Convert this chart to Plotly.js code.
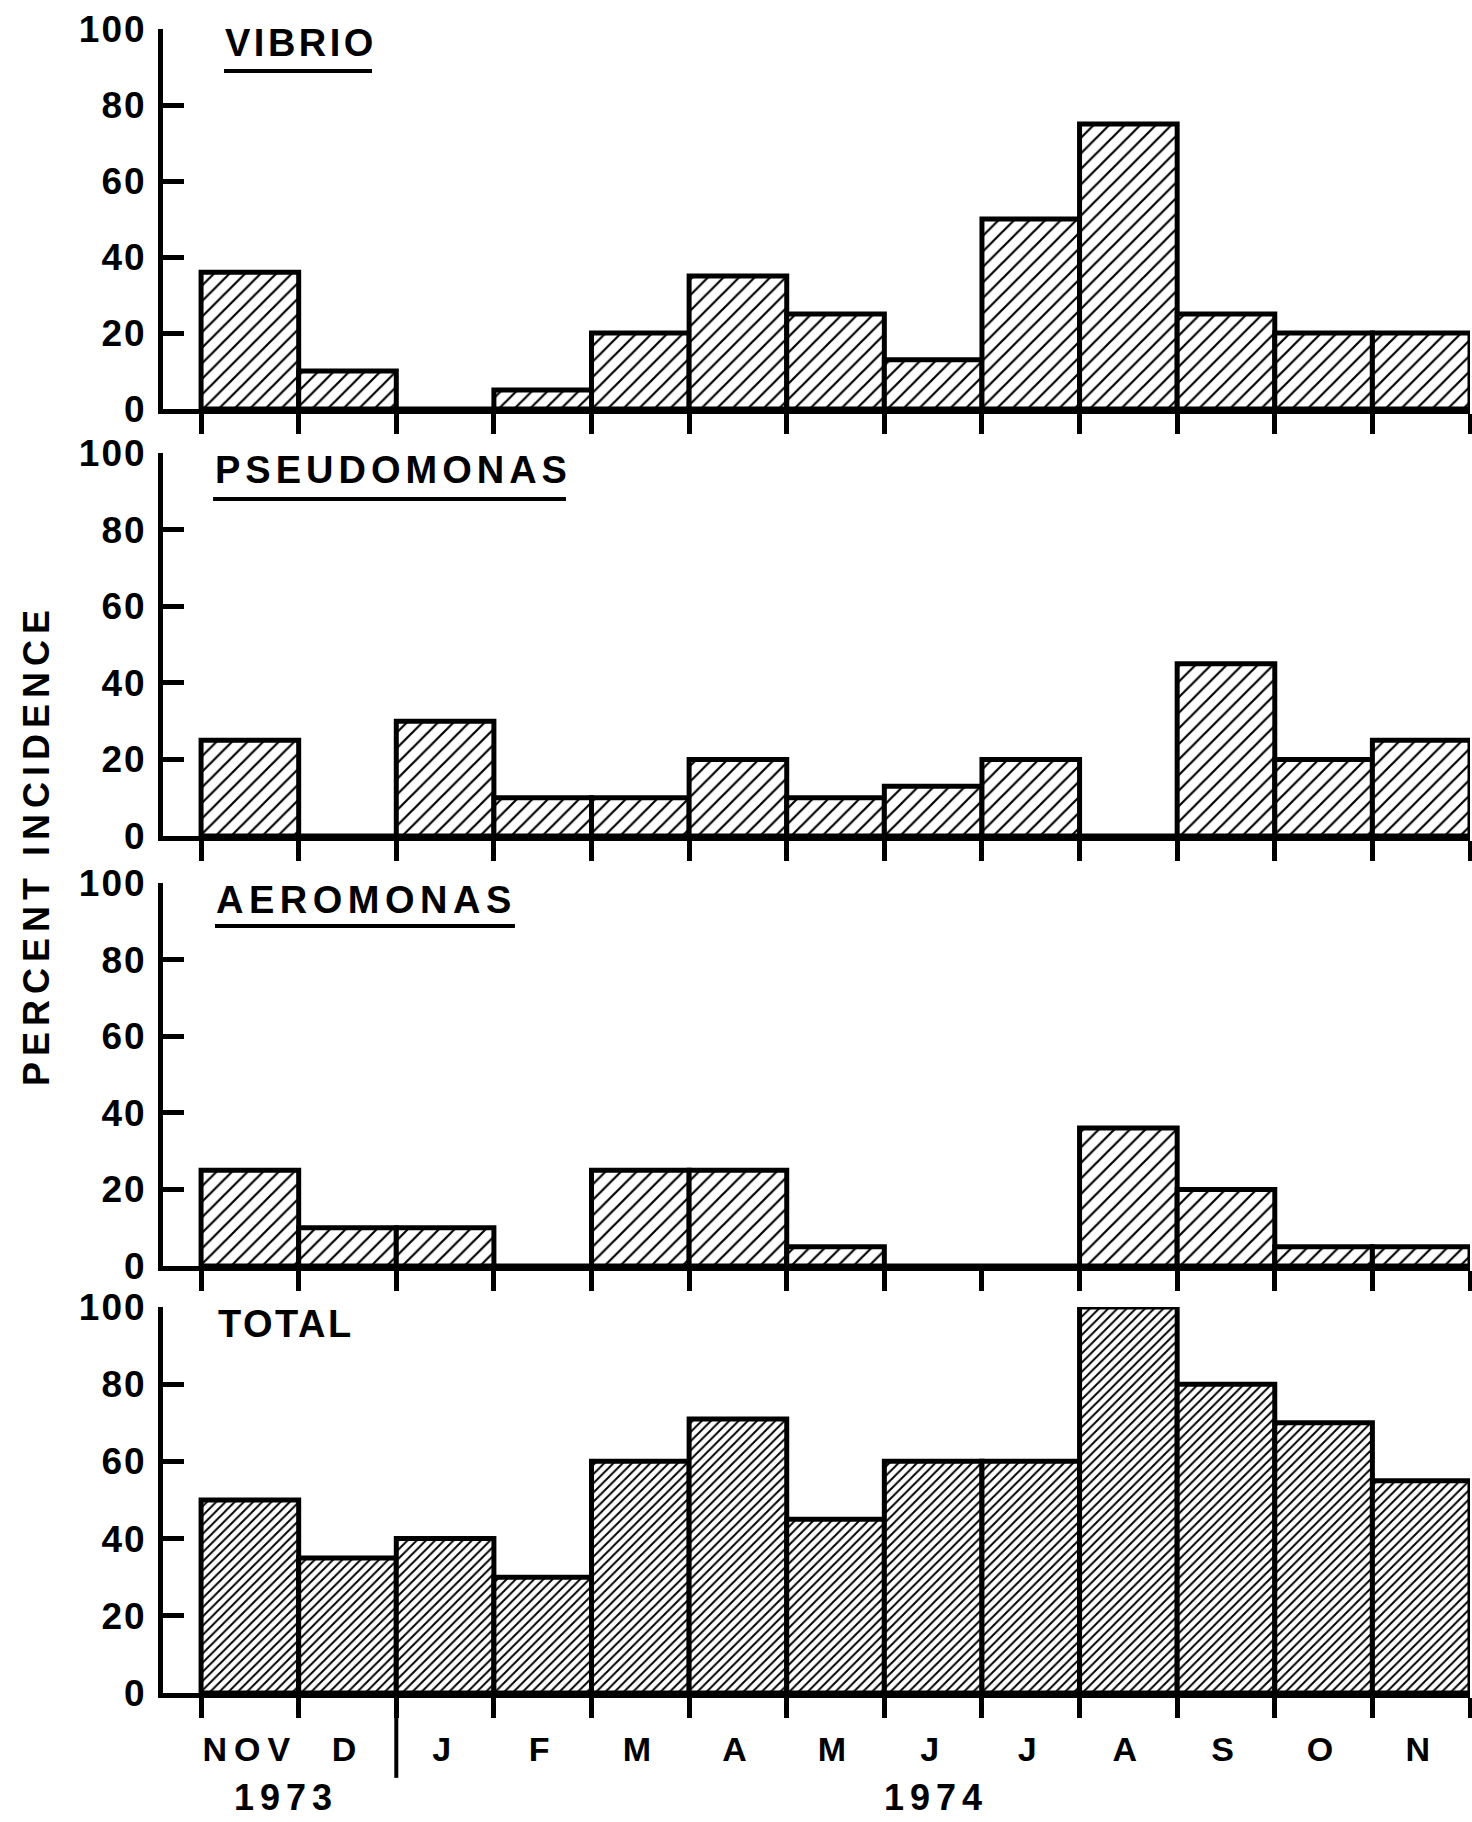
<!DOCTYPE html>
<html>
<head>
<meta charset="utf-8">
<script src="https://cdn.plot.ly/plotly-3.0.1.min.js"></script>
<style>
html,body{margin:0;padding:0;background:#fff;}
</style>
</head>
<body>
<div id="chart" style="width:1472px;height:1822px;"></div>
<script>
// ---- data ----
const months = ['NOV','D','J','F','M','A','M','J','J','A','S','O','N'];
const vibrio      = [36, 10, 0, 5, 20, 35, 25, 13, 50, 75, 25, 20, 20];
const pseudomonas = [25, 0, 30, 10, 10, 20, 10, 13, 20, 0, 45, 20, 25];
const aeromonas   = [25, 10, 10, 0, 25, 25, 5, 0, 0, 36, 20, 5, 5];
const total       = [50, 35, 40, 30, 60, 71, 45, 60, 60, 100, 80, 70, 55];
const panelTitles = ['VIBRIO', 'PSEUDOMONAS', 'AEROMONAS', 'TOTAL'];
const years = ['1973', '1974'];
const yTitle = 'PERCENT INCIDENCE';
const yTicks = [0, 20, 40, 60, 80, 100];

// ---- build ----
const FONT = 'Liberation Sans, Arial, sans-serif';
const spaced = (t, px) => '<span style="letter-spacing:' + px + 'px">' + t + '</span>';
const centers = months.map((m, i) => i + 0.5);
const bounds = months.map((m, i) => i).concat([months.length]);
const xr = [-0.39, months.length];
const LW = 5;

const series = [vibrio, pseudomonas, aeromonas, total];
const suffix = ['', '2', '3', '4'];
const patSize = [11, 11, 11, 6.5];
const patSolid = [0.2, 0.2, 0.2, 0.3];

const traces = series.map((vals, k) => ({
  type: 'bar',
  x: centers,
  y: vals,
  width: 1,
  xaxis: 'x' + suffix[k],
  yaxis: 'y' + suffix[k],
  cliponaxis: false,
  hoverinfo: 'skip',
  marker: {
    color: 'white',
    line: {color: 'black', width: LW},
    pattern: {shape: '/', size: patSize[k], solidity: patSolid[k], fgcolor: 'black', bgcolor: 'white', fillmode: 'replace'}
  }
}));

const domains = [[0.7716, 1.0], [0.515, 0.7452], [0.2566, 0.4868], [0.0, 0.232]];

const layout = {
  width: 1472, height: 1822,
  margin: {l: 163, r: 2, t: 29, b: 129},
  paper_bgcolor: 'white', plot_bgcolor: 'white',
  showlegend: false,
  bargap: 0,
  font: {family: FONT, color: 'black', size: 36, weight: 'bold'},
  annotations: [], shapes: []
};

for (let k = 0; k < 4; k++) {
  const s = suffix[k];
  layout['yaxis' + s] = {
    domain: domains[k], range: [0, 100], anchor: 'x' + s,
    tickmode: 'array', tickvals: yTicks, ticktext: yTicks.map(v => spaced(String(v), 2)),
    ticks: 'inside', ticklen: 21, tickwidth: LW, tickcolor: 'black',
    showline: true, linewidth: LW, linecolor: 'black',
    showgrid: false, zeroline: false, fixedrange: true,
    tickfont: {family: FONT, size: 37, color: 'black', weight: 'bold'},
    ticklabelstandoff: 4
  };
  const xa = {
    range: xr, anchor: 'y' + s,
    showline: true, linewidth: LW, linecolor: 'black',
    showgrid: false, zeroline: false, fixedrange: true
  };
  if (k < 3) {
    Object.assign(xa, {
      tickmode: 'array', tickvals: bounds, ticks: 'outside', ticklen: 20, tickwidth: LW, tickcolor: 'black',
      showticklabels: false
    });
  } else {
    Object.assign(xa, {
      tickmode: 'array', tickvals: centers, ticktext: months.map(m => spaced(m, 7)),
      ticks: 'outside', ticklen: 22, tickwidth: 1, tickcolor: 'rgba(0,0,0,0)',
      tickfont: {family: FONT, size: 34, color: 'black', weight: 'bold'},
      minor: {tickmode: 'array', tickvals: bounds, ticks: 'outside', ticklen: 20, tickwidth: LW, tickcolor: 'black', showgrid: false}
    });
  }
  layout['xaxis' + s] = xa;
}

// y-axis title (shared)
layout.annotations.push({
  text: spaced(yTitle, 6),
  xref: 'paper', yref: 'paper', x: -0.0972, y: 0.5096,
  xanchor: 'center', yanchor: 'middle', textangle: -90, showarrow: false,
  font: {family: FONT, size: 36, color: 'black', weight: 'bold'}
});

// panel titles
const titlePos = [[0.0460, 0.9916], [0.0383, 0.7350], [0.0390, 0.4766], [0.0405, 0.2218]];
const titleSpacing = [3.5, 5, 5.5, 2.5];
panelTitles.forEach((t, k) => {
  layout.annotations.push({
    text: spaced(t, titleSpacing[k]),
    xref: 'paper', yref: 'paper', x: titlePos[k][0], y: titlePos[k][1],
    xanchor: 'left', yanchor: 'middle', showarrow: false,
    font: {family: FONT, size: 38, color: 'black', weight: 'bold'}
  });
});
// underlines for the first three titles
const ul = [[0.0467, 0.1599, 0.9748], [0.0383, 0.3083, 0.7175], [0.0398, 0.2693, 0.4609]];
ul.forEach(u => layout.shapes.push({
  type: 'line', xref: 'paper', yref: 'paper', x0: u[0], x1: u[1], y0: u[2], y1: u[2],
  line: {color: 'black', width: 4}
}));

// year labels and year divider (Dec / Jan boundary)
const yearX = [0.87, 7.53];
years.forEach((y, i) => layout.annotations.push({
  text: spaced(y, 6),
  xref: 'x4', yref: 'paper', x: yearX[i], y: -0.0766,
  xanchor: 'center', yanchor: 'bottom', showarrow: false,
  font: {family: FONT, size: 36, color: 'black', weight: 'bold'}
}));
layout.shapes.push({
  type: 'line', xref: 'x4', yref: 'paper', x0: 2, x1: 2, y0: 0, y1: -0.051,
  line: {color: 'black', width: 4}
});

Plotly.newPlot('chart', traces, layout, {staticPlot: true, displayModeBar: false});
</script>
</body>
</html>
